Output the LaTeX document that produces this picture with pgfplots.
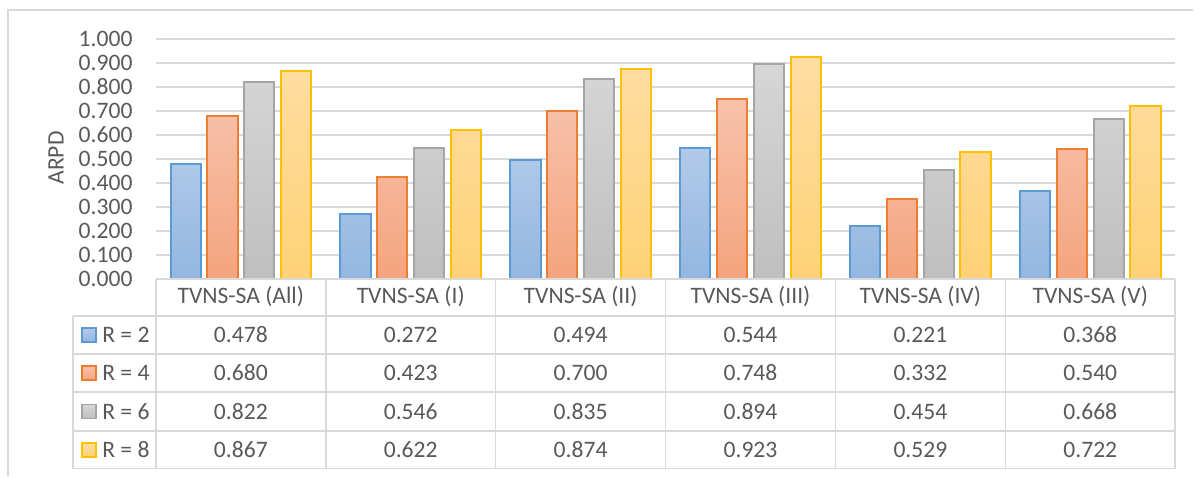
\documentclass[border=0pt]{standalone}
\usepackage{fontspec}
\setmainfont{Carlito}
\usepackage{pgfplots}
\usepackage{pgfplotstable}
\pgfplotsset{compat=1.18}

\definecolor{txtgray}{HTML}{595959}
\definecolor{linegray}{HTML}{D9D9D9}
\definecolor{blueedge}{HTML}{5B9BD5}
\definecolor{bluetop}{HTML}{B2CAE9}
\definecolor{bluebot}{HTML}{93B6E1}
\definecolor{orangeedge}{HTML}{ED7D31}
\definecolor{orangetop}{HTML}{F7C2AA}
\definecolor{orangebot}{HTML}{F4A47E}
\definecolor{grayedge}{HTML}{A5A5A5}
\definecolor{graytop}{HTML}{D6D6D6}
\definecolor{graybot}{HTML}{BFBFBF}
\definecolor{yellowedge}{HTML}{FFC000}
\definecolor{yellowtop}{HTML}{FFDDA2}
\definecolor{yellowbot}{HTML}{FFD278}

% ARPD per instance group (rows) and R value (columns)
\pgfplotstableread{
idx r2    r4    r6    r8
0   0.478 0.680 0.822 0.867
1   0.272 0.423 0.546 0.622
2   0.494 0.700 0.835 0.874
3   0.544 0.748 0.894 0.923
4   0.221 0.332 0.454 0.529
5   0.368 0.540 0.668 0.722
}\arpd

\tikzset{
  rtwo/.style={draw=blueedge, top color=bluetop, bottom color=bluebot, line width=1pt},
  rfour/.style={draw=orangeedge, top color=orangetop, bottom color=orangebot, line width=1pt},
  rsix/.style={draw=grayedge, top color=graytop, bottom color=graybot, line width=1pt},
  reight/.style={draw=yellowedge, top color=yellowtop, bottom color=yellowbot, line width=1pt},
  px/.style={xshift=-78pt, yshift=139.5pt, x=0.5pt, y=-0.5pt},
  tline/.style={draw=linegray, line width=0.8pt},
}

\begin{document}
\begin{tikzpicture}[font=\fontsize{11.8}{14}\selectfont]
\begin{scope}[px]
  \useasboundingbox (0,0) rectangle (1194,476);
\end{scope}

\begin{axis}[
  at={(0,0)}, anchor=south west,
  scale only axis, width=510pt, height=120pt,
  xmin=-0.5, xmax=5.5, ymin=0, ymax=1,
  ybar, bar width=0.178,
  axis line style={draw=none},
  tick style={draw=none},
  ymajorgrids, grid style={draw=linegray, line width=0.9pt},
  ytick={0,0.1,0.2,0.3,0.4,0.5,0.6,0.7,0.8,0.9,1.0},
  xtick={0,1,2,3,4,5},
  xticklabels={TVNS-SA (All),TVNS-SA (I),TVNS-SA (II),TVNS-SA (III),TVNS-SA (IV),TVNS-SA (V)},
  major tick length=0pt,
  yticklabel style={/pgf/number format/fixed, /pgf/number format/fixed zerofill,
    /pgf/number format/precision=3, /pgf/number format/assume math mode=true},
  every tick label/.append style={font=\fontsize{11.8}{14}\selectfont, text=txtgray},
  yticklabel style={anchor=east, inner sep=0pt, xshift=-11.5pt},
  xticklabel style={anchor=base, inner sep=0pt, yshift=-12.5pt},
  clip=false,
]
\addplot[rtwo, bar shift=-0.325] table[x=idx, y=r2]{\arpd};
\addplot[rfour, bar shift=-0.108] table[x=idx, y=r4]{\arpd};
\addplot[rsix, bar shift=0.109] table[x=idx, y=r6]{\arpd};
\addplot[reight, bar shift=0.325] table[x=idx, y=r8]{\arpd};
\end{axis}

\begin{scope}[px, text=txtgray]
  % frame of the chart area
  \draw[draw=linegray, line width=0.8pt] (8,476) -- (8,10) -- (1194,10);
  % axis title
  \node[rotate=90] at (56,158) {ARPD};
  % data table grid
  \draw[tline] (156,279) -- (1176,279);
  \foreach \yy in {316,354,392,431,469} \draw[tline] (73,\yy) -- (1176,\yy);
  \draw[tline] (73,316) -- (73,469);
  \foreach \xx in {156,326,496,666,836,1006,1176} \draw[tline] (\xx,279) -- (\xx,469);
  % legend keys and series names
  \foreach \st/\nm [count=\r from 0] in {rtwo/2, rfour/4, rsix/6, reight/8} {
    \pgfmathsetmacro{\cy}{335+38.4*\r}
    \path[\st, line width=0.8pt] (82,\cy-7) rectangle (96,\cy+7);
    \node[anchor=base west, inner sep=0pt] at (102,\cy+7.5) {R = \nm};
  }
  % table values
  \foreach \col [count=\r from 0] in {r2,r4,r6,r8} {
    \foreach \c in {0,...,5} {
      \pgfplotstablegetelem{\c}{\col}\of\arpd
      \pgfmathsetmacro{\cx}{241+170*\c}
      \pgfmathsetmacro{\cy}{335+38.4*\r}
      \node[anchor=base, inner sep=0pt] at (\cx,\cy+7.5)
        {\pgfmathprintnumber[fixed, fixed zerofill, precision=3, assume math mode=true]{\pgfplotsretval}};
    }
  }
\end{scope}
\end{tikzpicture}
\end{document}
